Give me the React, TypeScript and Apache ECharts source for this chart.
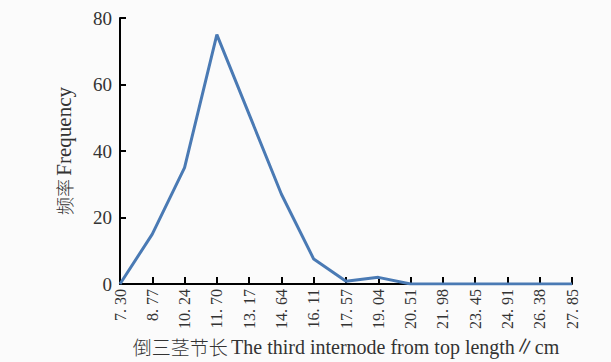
import React, { useEffect, useRef } from "react";
import * as echarts from "echarts";

const categories = ["7. 30", "8. 77", "10. 24", "11. 70", "13. 17", "14. 64", "16. 11", "17. 57", "19. 04", "20. 51", "21. 98", "23. 45", "24. 91", "26. 38", "27. 85"];
const frequency = [0, 15, 35, 75, 51, 27, 7.5, 0.8, 2, 0, 0, 0, 0, 0, 0];
const yTicks = { min: 0, max: 80, interval: 20 };
const xNameZh = "倒三茎节长";
const xNameEn = "The third internode from top length∥cm";
const yNameZh = "频率";
const yNameEn = "Frequency";

const serif = "'Liberation Serif', 'Noto Sans CJK SC', serif";
const cjk = "'Noto Sans CJK SC', sans-serif";

export default function App() {
  const ref = useRef<HTMLDivElement>(null);
  useEffect(() => {
    if (!ref.current) return;
    const chart = echarts.init(ref.current, undefined, { renderer: "svg" });
    chart.setOption({
      animation: false,
      backgroundColor: "#fbfbfb",
      grid: { left: 120, top: 18, right: 39, bottom: 78, containLabel: false, outerBoundsMode: "none" },
      xAxis: {
        type: "category",
        data: categories,
        boundaryGap: false,
        name: `{zh|${xNameZh}} {en|${xNameEn}}`,
        nameLocation: "middle",
        nameGap: 52,
        nameTextStyle: {
          color: "#333",
          lineHeight: 20,
          rich: {
            zh: { fontFamily: cjk, fontSize: 19, fontWeight: 300, color: "#333", lineHeight: 20 },
            en: { fontFamily: serif, fontSize: 20, color: "#333", lineHeight: 20 },
          },
        },
        axisLine: { lineStyle: { color: "#000", width: 2 } },
        axisTick: { inside: true, length: 7, lineStyle: { color: "#000", width: 2 }, alignWithLabel: true },
        axisLabel: { rotate: 90, fontFamily: serif, fontSize: 16, color: "#333", margin: 5, interval: 0 },
      },
      yAxis: {
        type: "value",
        min: yTicks.min,
        max: yTicks.max,
        interval: yTicks.interval,
        name: `{zh|${yNameZh}} {en|${yNameEn}}`,
        nameLocation: "middle",
        nameGap: 46,
        nameTextStyle: {
          color: "#333",
          rich: {
            zh: { fontFamily: cjk, fontSize: 18, fontWeight: 300, color: "#333" },
            en: { fontFamily: serif, fontSize: 21, color: "#333" },
          },
        },
        splitLine: { show: false },
        axisLine: { show: true, lineStyle: { color: "#000", width: 2 } },
        axisTick: { show: true, inside: true, length: 6, lineStyle: { color: "#000", width: 2 } },
        axisLabel: { fontFamily: serif, fontSize: 19, color: "#333", margin: 8 },
      },
      series: [
        {
          type: "line",
          data: frequency,
          symbol: "none",
          lineStyle: { color: "#4a7ab4", width: 3 },
        },
      ],
    });
    return () => chart.dispose();
  }, []);
  return <div ref={ref} style={{ width: 611, height: 362, position: "absolute", left: 0, top: 0 }} />;
}
